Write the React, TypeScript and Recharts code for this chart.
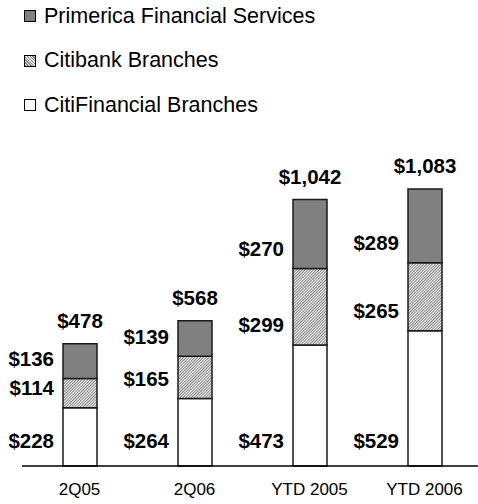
import { BarChart, Bar, XAxis, YAxis, LabelList, Legend } from 'recharts';

const categories = ['2Q05', '2Q06', 'YTD 2005', 'YTD 2006'];
const citiFinancial = [228, 264, 473, 529];
const citibank = [114, 165, 299, 265];
const primerica = [136, 139, 270, 289];
const totals = [478, 568, 1042, 1083];

const data = categories.map((name, i) => ({
  name,
  citiFinancial: citiFinancial[i],
  citibank: citibank[i],
  primerica: primerica[i],
  total: totals[i],
}));

const FONT = 'Arial, "Liberation Sans", sans-serif';
const money = (v: number) => `$${v.toLocaleString('en-US')}`;

// value label sits left of the bar, near the bottom of its segment
const sideLabel = (lift: number) => (props: any) => {
  const { x, y, height, value } = props;
  return (
    <text
      x={x - 9}
      y={y + height - lift}
      textAnchor="end"
      dominantBaseline="central"
      fontFamily={FONT}
      fontWeight="bold"
      fontSize={20.5}
      fill="#000"
    >
      {money(value)}
    </text>
  );
};

const totalLabel = (props: any) => {
  const { x, y, width, value } = props;
  return (
    <text
      x={x + width / 2}
      y={y - 23}
      textAnchor="middle"
      dominantBaseline="central"
      fontFamily={FONT}
      fontWeight="bold"
      fontSize={20.5}
      fill="#000"
    >
      {money(value)}
    </text>
  );
};

const swatch: Record<string, string> = {
  primerica: '#808080',
  citibank: 'repeating-linear-gradient(45deg, #888 0px, #888 1px, #e6e6e6 1px, #e6e6e6 2px)',
  citiFinancial: '#fff',
};

const renderLegend = (props: any) => {
  const items = [...(props.payload || [])].reverse();
  return (
    <div style={{ fontFamily: FONT, fontSize: 21.5, color: '#000' }}>
      {items.map((it: any) => (
        <div key={it.dataKey} style={{ height: 44.5, display: 'flex', alignItems: 'center' }}>
          <span
            style={{
              display: 'inline-block',
              width: 10,
              height: 10,
              border: '1.5px solid #000',
              background: swatch[it.dataKey],
              marginLeft: 24,
              marginRight: 8,
            }}
          />
          {it.value}
        </div>
      ))}
    </div>
  );
};

export default function App() {
  return (
    <div style={{ position: 'absolute', left: 0, top: 0, background: '#fff' }}>
      <BarChart
        width={478}
        height={504}
        data={data}
        margin={{ top: 159, right: -4, left: 22, bottom: 0 }}
        barSize={34}
      >
        <defs>
          <pattern id="hatch" width="2" height="2" patternUnits="userSpaceOnUse" patternTransform="rotate(45)">
            <rect width="2" height="2" fill="#f2f2f2" />
            <line x1="0.5" y1="0" x2="0.5" y2="2" stroke="#7a7a7a" strokeWidth="0.9" />
          </pattern>
        </defs>
        <XAxis
          dataKey="name"
          axisLine={{ stroke: '#000', strokeWidth: 1.5 }}
          tickLine={false}
          tickSize={0}
          tickMargin={17}
          height={38}
          interval={0}
          tick={{ fill: '#000', fontSize: 17, fontFamily: FONT }}
        />
        <YAxis hide domain={[0, 1200]} />
        <Legend
          layout="vertical"
          align="center"
          verticalAlign="middle"
          wrapperStyle={{ top: -6, left: 0, width: 400 }}
          content={renderLegend}
        />
        <Bar
          dataKey="citiFinancial"
          name="CitiFinancial Branches"
          stackId="a"
          fill="#fff"
          stroke="#1a1a1a"
          strokeWidth={1.5}
          isAnimationActive={false}
        >
          <LabelList dataKey="citiFinancial" content={sideLabel(26)} />
        </Bar>
        <Bar
          dataKey="citibank"
          name="Citibank Branches"
          stackId="a"
          fill="url(#hatch)"
          stroke="#1a1a1a"
          strokeWidth={1.5}
          isAnimationActive={false}
        >
          <LabelList dataKey="citibank" content={sideLabel(20)} />
        </Bar>
        <Bar
          dataKey="primerica"
          name="Primerica Financial Services"
          stackId="a"
          fill="#808080"
          stroke="#1a1a1a"
          strokeWidth={1.5}
          isAnimationActive={false}
        >
          <LabelList dataKey="primerica" content={sideLabel(20)} />
          <LabelList dataKey="total" content={totalLabel} />
        </Bar>
      </BarChart>
    </div>
  );
}
